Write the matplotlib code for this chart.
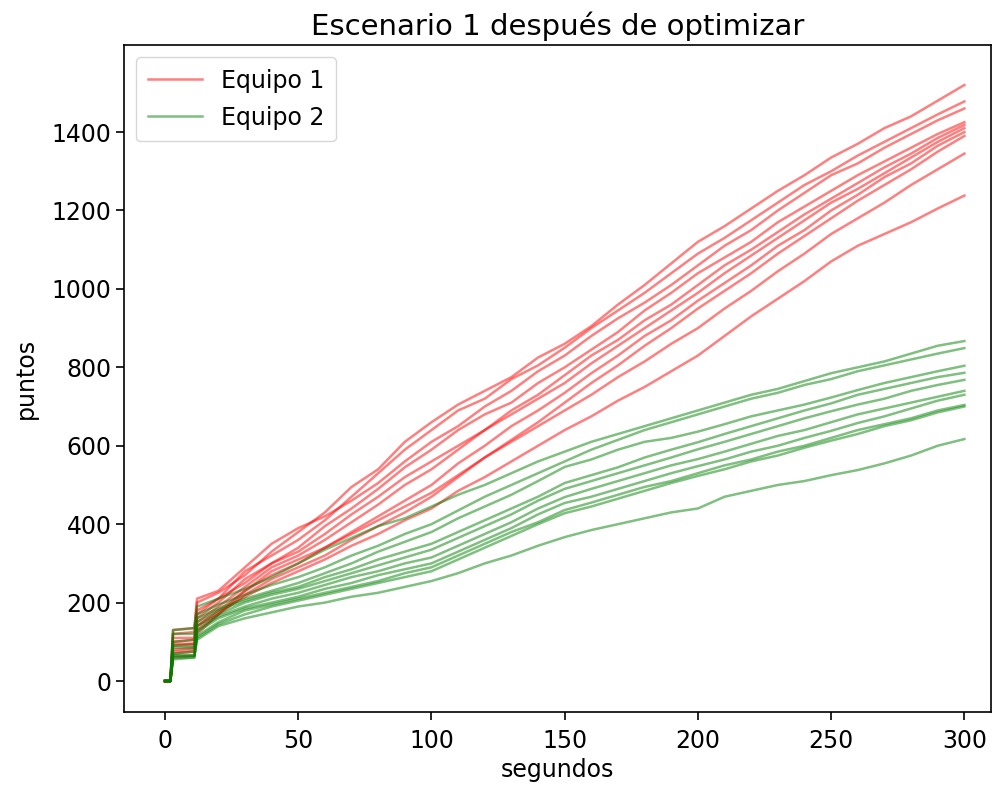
import matplotlib
matplotlib.use("Agg")
from matplotlib import pyplot as plt

t = [0, 2, 3, 11, 12] + list(range(20, 301, 10))

# Equipo 1 (red)
r1 = [0, 0, 120, 125, 200, 225, 270, 330, 380, 430, 495, 540, 610, 660, 705, 740, 775, 825, 860, 905, 960, 1010, 1065, 1120, 1160, 1205, 1250, 1290, 1335, 1370, 1410, 1440, 1480, 1520]
r2 = [0, 0, 100, 105, 180, 210, 280, 320, 360, 410, 470, 530, 590, 640, 690, 720, 770, 805, 850, 900, 945, 990, 1040, 1090, 1130, 1175, 1220, 1265, 1300, 1340, 1375, 1410, 1445, 1478]
r3 = [0, 0, 130, 135, 210, 230, 290, 350, 390, 420, 460, 505, 560, 610, 650, 700, 740, 790, 830, 880, 925, 965, 1010, 1060, 1110, 1150, 1200, 1245, 1290, 1320, 1360, 1395, 1430, 1460]
r4 = [0, 0, 90, 95, 160, 200, 260, 300, 340, 395, 440, 490, 545, 590, 640, 680, 710, 760, 800, 845, 890, 945, 990, 1040, 1080, 1120, 1170, 1210, 1250, 1290, 1325, 1360, 1395, 1425]
r5 = [0, 0, 80, 85, 150, 190, 240, 290, 320, 360, 405, 450, 500, 540, 590, 640, 690, 730, 780, 830, 870, 920, 960, 1010, 1060, 1100, 1145, 1190, 1230, 1270, 1310, 1345, 1385, 1418]
r6 = [0, 0, 110, 110, 170, 210, 250, 300, 330, 375, 425, 470, 520, 560, 600, 640, 680, 720, 760, 810, 855, 900, 945, 990, 1040, 1085, 1130, 1175, 1220, 1255, 1295, 1335, 1375, 1410]
r7 = [0, 0, 70, 75, 140, 180, 230, 270, 300, 340, 380, 420, 460, 500, 555, 600, 650, 690, 735, 785, 830, 880, 920, 970, 1015, 1060, 1110, 1150, 1200, 1240, 1285, 1320, 1365, 1400]
r8 = [0, 0, 95, 95, 130, 170, 220, 260, 290, 320, 360, 395, 430, 470, 520, 570, 615, 660, 710, 760, 805, 855, 900, 950, 995, 1040, 1090, 1135, 1180, 1225, 1265, 1305, 1350, 1390]
r9 = [0, 0, 60, 65, 120, 170, 230, 280, 310, 340, 375, 410, 445, 480, 525, 570, 610, 650, 690, 730, 775, 815, 860, 900, 950, 995, 1045, 1090, 1140, 1180, 1220, 1265, 1305, 1345]
r10 = [0, 0, 75, 80, 140, 175, 215, 250, 280, 310, 345, 375, 410, 440, 485, 520, 560, 600, 640, 675, 715, 750, 790, 830, 880, 930, 975, 1020, 1070, 1110, 1140, 1170, 1205, 1238]

# Equipo 2 (green)
g1 = [0, 0, 130, 135, 190, 210, 235, 265, 300, 335, 365, 395, 415, 445, 475, 500, 530, 560, 585, 610, 630, 650, 670, 690, 710, 730, 745, 765, 785, 800, 815, 835, 855, 867]
g2 = [0, 0, 120, 120, 170, 195, 220, 245, 265, 290, 320, 345, 375, 400, 435, 470, 500, 530, 560, 590, 615, 640, 660, 680, 700, 720, 735, 755, 770, 790, 805, 820, 835, 849]
g3 = [0, 0, 100, 105, 160, 185, 210, 230, 250, 275, 300, 330, 355, 380, 415, 445, 475, 510, 546, 565, 590, 610, 620, 636, 655, 675, 690, 705, 723, 742, 760, 775, 790, 804]
g4 = [0, 0, 90, 90, 150, 180, 205, 225, 240, 265, 285, 310, 330, 350, 380, 410, 440, 470, 505, 525, 545, 570, 590, 609, 630, 650, 670, 690, 708, 730, 745, 760, 775, 786]
g5 = [0, 0, 85, 85, 140, 170, 200, 220, 235, 255, 275, 295, 315, 335, 365, 395, 425, 460, 490, 510, 530, 550, 570, 591, 610, 630, 650, 670, 688, 705, 720, 740, 755, 768]
g6 = [0, 0, 70, 75, 130, 165, 190, 210, 225, 245, 265, 280, 300, 315, 345, 375, 405, 440, 469, 490, 510, 530, 550, 566, 585, 605, 625, 640, 660, 680, 695, 710, 725, 740]
g7 = [0, 0, 65, 65, 125, 160, 185, 200, 215, 235, 250, 270, 285, 300, 330, 360, 390, 425, 454, 470, 490, 510, 530, 548, 565, 585, 600, 620, 638, 658, 675, 695, 715, 730]
g8 = [0, 0, 60, 60, 115, 150, 180, 195, 210, 225, 240, 255, 275, 290, 320, 350, 380, 405, 436, 455, 475, 495, 510, 530, 550, 565, 585, 600, 620, 640, 655, 670, 690, 704]
g9 = [0, 0, 55, 60, 110, 145, 170, 190, 205, 220, 235, 250, 265, 280, 310, 340, 370, 400, 428, 445, 465, 485, 505, 523, 540, 560, 575, 595, 613, 630, 650, 665, 685, 700]
g10 = [0, 0, 65, 65, 105, 140, 160, 175, 190, 200, 215, 225, 240, 255, 275, 300, 320, 345, 367, 385, 400, 415, 430, 440, 470, 485, 500, 510, 525, 538, 555, 575, 600, 617]

equipo1 = [r1, r2, r3, r4, r5, r6, r7, r8, r9, r10]
equipo2 = [g1, g2, g3, g4, g5, g6, g7, g8, g9, g10]

fig = plt.figure(figsize=(9.93, 7.85), dpi=100)
ax = fig.add_axes([0.1249, 0.0930, 0.8731, 0.8497])

for i, serie in enumerate(equipo1):
    ax.plot(t, serie, color='r', alpha=0.5, linewidth=1.8,
            label='Equipo 1' if i == 0 else None)
for i, serie in enumerate(equipo2):
    ax.plot(t, serie, color='g', alpha=0.5, linewidth=1.8,
            label='Equipo 2' if i == 0 else None)

ax.set_xlim(-15.4, 310)
ax.set_ylim(-79, 1622)
ax.set_xticks([0, 50, 100, 150, 200, 250, 300])
ax.set_yticks([0, 200, 400, 600, 800, 1000, 1200, 1400])
ax.tick_params(labelsize=17, length=5.5, width=1.2)
ax.tick_params(axis='x', pad=7)
for s in ax.spines.values():
    s.set_linewidth(1.2)

ax.set_title('Escenario 1 después de optimizar', fontsize=21, pad=7)
ax.set_xlabel('segundos', fontsize=17, labelpad=3)
ax.set_ylabel('puntos', fontsize=17, labelpad=10)
ax.legend(loc='upper left', fontsize=17, handlelength=2.3, borderpad=0.5,
          labelspacing=0.55)

plt.savefig('out.png', dpi=100)
